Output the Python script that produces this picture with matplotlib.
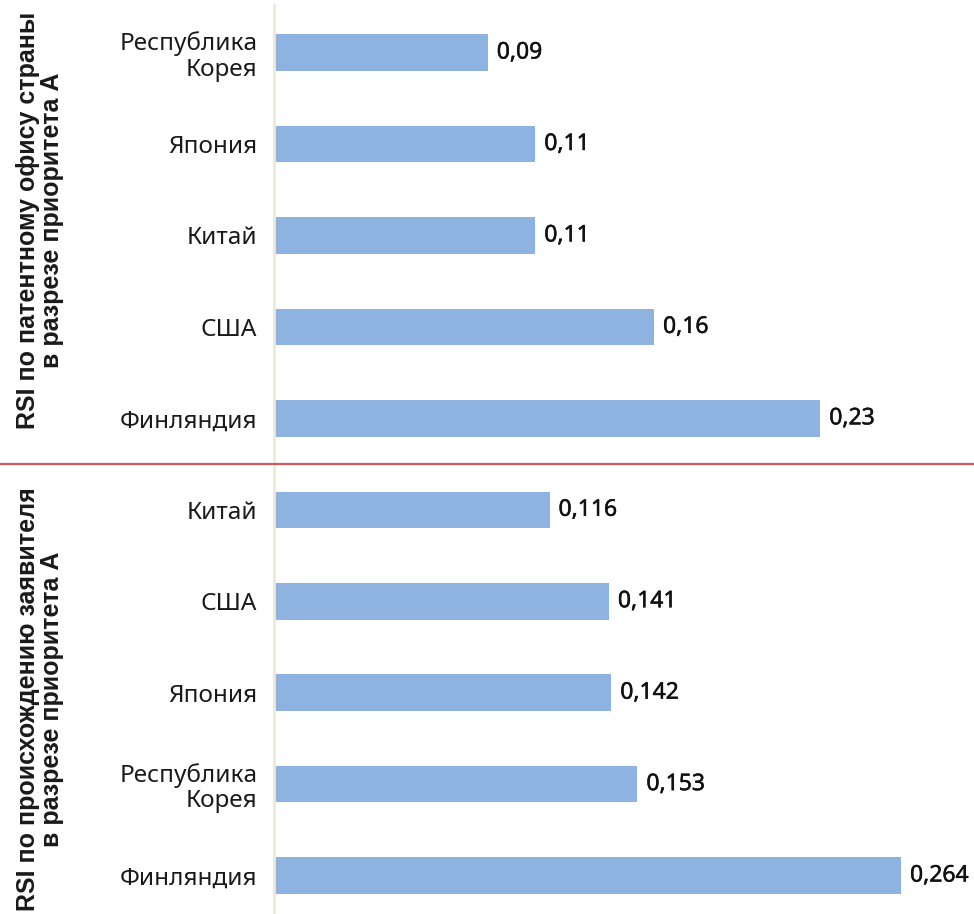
import matplotlib
matplotlib.use("Agg")
import matplotlib.pyplot as plt
from matplotlib.lines import Line2D
from matplotlib import font_manager as fm
from matplotlib import patheffects as pe

# RSI по патентному офису страны в разрезе приоритета А
office_countries = ["Республика\nКорея", "Япония", "Китай", "США", "Финляндия"]
office_values = [0.09, 0.11, 0.11, 0.16, 0.23]
office_labels = ["0,09", "0,11", "0,11", "0,16", "0,23"]

# RSI по происхождению заявителя в разрезе приоритета А
origin_countries = ["Китай", "США", "Япония", "Республика\nКорея", "Финляндия"]
origin_values = [0.116, 0.141, 0.142, 0.153, 0.264]
origin_labels = ["0,116", "0,141", "0,142", "0,153", "0,264"]

group_titles = [
    "RSI по патентному офису страны\nв разрезе приоритета А",
    "RSI по происхождению заявителя\nв разрезе приоритета А",
]

# regular-width Liberation Sans Bold for the group titles
title_font = None
for f in fm.fontManager.ttflist:
    if f.fname.endswith("LiberationSans-Bold.ttf"):
        title_font = fm.FontProperties(fname=f.fname, size=18)
        break
if title_font is None:
    title_font = fm.FontProperties(family="DejaVu Sans", weight="bold", size=16)

W, H = 974, 914
fig = plt.figure(figsize=(W / 100, H / 100), dpi=100)
ax = fig.add_axes([274 / W, 0, 700 / W, 1 - 5 / H])

countries = office_countries + origin_countries
values = office_values + origin_values
labels = office_labels + origin_labels
ypos = list(range(len(countries)))

bar_color = "#8fb3e0"
ax.barh(ypos, values, height=0.4, color=bar_color)
ax.set_ylim(9.42, -0.52)
ax.set_xlim(0, 700 / 2375)

ax.set_yticks(ypos)
ax.set_yticklabels(countries, fontsize=17.5, fontfamily="Noto Sans", color="#1a1a1a",
                   linespacing=1.1)
ax.tick_params(axis="y", length=0, pad=12)
ax.tick_params(axis="x", bottom=False, labelbottom=False)
for s in ["top", "right", "bottom"]:
    ax.spines[s].set_visible(False)
ax.spines["left"].set_color("#efe9da")
ax.spines["left"].set_linewidth(2)

for y, v, t in zip(ypos, values, labels):
    ax.annotate(t, (v, y), xytext=(6.5, 0), textcoords="offset points",
                va="center", ha="left", fontsize=16.5, fontfamily="Noto Sans",
                color="#111111",
                path_effects=[pe.withStroke(linewidth=0.35, foreground="#111111")])

# divider between the two groups, spanning the full figure width
ydiv = ax.transData.transform((0, 4.5))[1]
yfig = fig.transFigure.inverted().transform((0, ydiv))[1]
fig.add_artist(Line2D([0, 1], [yfig, yfig], transform=fig.transFigure,
                      color="#d05a5a", linewidth=1.6))

# group titles, rotated along the left edge
for title, center in zip(group_titles, [1.83, 7.07]):
    yc = ax.transData.transform((0, center))[1]
    yc = fig.transFigure.inverted().transform((0, yc))[1]
    fig.text(40 / W, yc, title, rotation=90, ha="center", va="center",
             fontproperties=title_font, color="#1a1a1a", linespacing=1.05,
             multialignment="center")

fig.savefig("out.png", dpi=100)
